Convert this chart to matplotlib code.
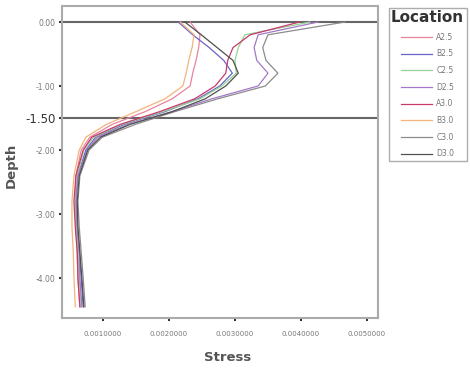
import matplotlib
matplotlib.use('Agg')
import matplotlib.pyplot as plt

# profundidades (m) comunes a todas las series
depth = [0, -0.2, -0.4, -0.6, -0.8, -1.0, -1.2, -1.4, -1.6, -1.8, -2.0,
         -2.4, -2.8, -3.2, -3.6, -4.0, -4.45]

# tension por localizacion
A25 = [0.00232, 0.00247, 0.00245, 0.00241, 0.00236, 0.00232, 0.00205, 0.00164, 0.00114,
       0.00080, 0.00067, 0.00059, 0.00058, 0.00059, 0.00061, 0.00062, 0.00065]
B25 = [0.00214, 0.00236, 0.00261, 0.00283, 0.00296, 0.00277, 0.00244, 0.00194, 0.00132,
       0.00089, 0.00074, 0.00062, 0.00059, 0.00061, 0.00064, 0.00067, 0.00070]
C25 = [0.00414, 0.00315, 0.00305, 0.00300, 0.00302, 0.00280, 0.00247, 0.00191, 0.00129,
       0.00086, 0.00071, 0.00061, 0.00058, 0.00059, 0.00062, 0.00064, 0.00067]
D25 = [0.00426, 0.00335, 0.00329, 0.00333, 0.00350, 0.00335, 0.00265, 0.00205, 0.00138,
       0.00092, 0.00076, 0.00062, 0.00059, 0.00061, 0.00064, 0.00065, 0.00068]
A30 = [0.00398, 0.00323, 0.00297, 0.00289, 0.00286, 0.00270, 0.00239, 0.00186, 0.00126,
       0.00083, 0.00070, 0.00059, 0.00056, 0.00058, 0.00061, 0.00062, 0.00065]
B30 = [0.00217, 0.00238, 0.00235, 0.00230, 0.00226, 0.00221, 0.00194, 0.00150, 0.00105,
       0.00074, 0.00064, 0.00056, 0.00053, 0.00053, 0.00055, 0.00056, 0.00058]
C30 = [0.00467, 0.00350, 0.00342, 0.00347, 0.00365, 0.00346, 0.00274, 0.00209, 0.00149,
       0.00099, 0.00079, 0.00065, 0.00062, 0.00064, 0.00067, 0.00070, 0.00073]
D30 = [0.00224, 0.00249, 0.00273, 0.00297, 0.00305, 0.00286, 0.00255, 0.00205, 0.00141,
       0.00096, 0.00077, 0.00064, 0.00061, 0.00062, 0.00065, 0.00068, 0.00071]

labels = ['A2.5', 'B2.5', 'C2.5', 'D2.5', 'A3.0', 'B3.0', 'C3.0', 'D3.0']
series = [A25, B25, C25, D25, A30, B30, C30, D30]
colors = ['#e8849c', '#6a62c8', '#94d494', '#a478c8', '#c8386c', '#f2b47a', '#8c8c8c', '#505050']

x_ticks = [0.001, 0.002, 0.003, 0.004, 0.005]
y_ticks = [0.0, -1.0, -1.5, -2.0, -3.0, -4.0]

fig = plt.figure(figsize=(4.7, 3.73), dpi=100)
ax = fig.add_axes([62/470, 55/373, 316/470, 312/373])

lines = []
for vals, lab, col in zip(series, labels, colors):
    ln, = ax.plot(vals, depth, color=col, linewidth=0.9, label=lab)
    lines.append(ln)

# lineas de referencia en 0 y -1.5
ax.axhline(0, color='#666666', linewidth=1.5, zorder=0)
ax.axhline(-1.5, color='#666666', linewidth=1.5, zorder=0)

ax.set_xlim(0.000379, 0.005167)
ax.set_ylim(-4.625, 0.25)

ax.set_xticks(x_ticks)
ax.set_xticklabels(['%.7f' % v for v in x_ticks], fontsize=5, color='#777777')
ax.set_yticks(y_ticks)
ax.set_yticklabels(['%.2f' % v for v in y_ticks], fontsize=5.5, color='#777777')
# la etiqueta -1.50 es mas grande y oscura
ylbl = ax.get_yticklabels()[2]
ylbl.set_fontsize(8.5)
ylbl.set_color('#333333')

ax.tick_params(axis='both', direction='out', length=2.5, width=1.5, color='#333333', pad=2)
ax.tick_params(axis='x', pad=7)

for sp in ax.spines.values():
    sp.set_color('#aaaaaa')
    sp.set_linewidth(1.5)

ax.set_xlabel('Stress', fontsize=9.5, color='#555555', fontweight='bold')
ax.set_ylabel('Depth', fontsize=9.5, color='#555555', fontweight='bold')
ax.xaxis.set_label_coords(0.525, -0.105)
ax.yaxis.set_label_coords(-0.14, 0.49)

leg = fig.legend(handles=lines, labels=labels, title='Location', loc='upper left',
                 bbox_to_anchor=(385/470, 1 - 4/373), fontsize=5.5, title_fontsize=11,
                 handlelength=4.0, labelspacing=1.0, borderpad=0.3, handletextpad=0.6,
                 fancybox=False, edgecolor='#999999')
leg.get_title().set_fontweight('bold')
leg.get_title().set_color('#333333')
for t in leg.get_texts():
    t.set_color('#777777')

plt.savefig('out.png', dpi=100)
